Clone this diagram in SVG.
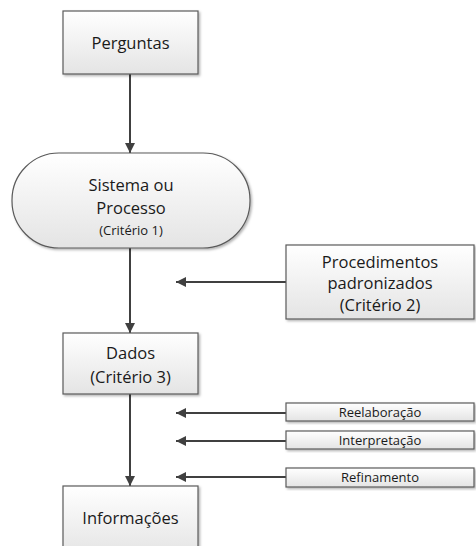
<svg xmlns="http://www.w3.org/2000/svg" width="476" height="546" viewBox="0 0 476 546">
<defs>
<linearGradient id="g" x1="0" y1="0" x2="0" y2="1">
<stop offset="0" stop-color="#ffffff"/>
<stop offset="1" stop-color="#e4e4e4"/>
</linearGradient>
<filter id="sh" x="-10%" y="-10%" width="130%" height="130%">
<feDropShadow dx="1.5" dy="1.5" stdDeviation="1.2" flood-color="#000" flood-opacity="0.3"/>
</filter>
<marker id="ah" viewBox="0 0 10 10" refX="10" refY="5" markerWidth="10" markerHeight="10" markerUnits="userSpaceOnUse" orient="auto">
<path d="M0,0 L10,5 L0,10 Z" fill="#404040"/>
</marker>
</defs>
<style>
.box{fill:url(#g);stroke:#5a5a5a;stroke-width:1.2;filter:url(#sh)}
.t{font-family:"Open Sans","Noto Sans",sans-serif;font-size:16.5px;fill:#1a1a1a;text-anchor:middle}
.s{font-family:"Open Sans","Noto Sans",sans-serif;font-size:13px;fill:#1a1a1a;text-anchor:middle}
.c{stroke:#404040;stroke-width:2;fill:none;marker-end:url(#ah)}
</style>
<rect width="476" height="546" fill="#fff"/>
<g id="connectors">
<line class="c" x1="130" y1="74" x2="130" y2="153"/>
<line class="c" x1="130" y1="248" x2="130" y2="333"/>
<line class="c" x1="130" y1="394" x2="130" y2="486"/>
<line class="c" x1="286" y1="282" x2="176" y2="282"/>
<line class="c" x1="286" y1="413" x2="176" y2="413"/>
<line class="c" x1="286" y1="441" x2="176" y2="441"/>
<line class="c" x1="286" y1="477" x2="176" y2="477"/>
</g>
<g id="perguntas">
<rect class="box" x="63" y="11" width="135" height="63"/>
<text class="t" x="130.5" y="49">Perguntas</text>
</g>
<g id="sistema">
<rect class="box" x="12" y="153" width="238" height="95" rx="47" ry="47"/>
<text class="t" x="131" y="191">Sistema ou</text>
<text class="t" x="131" y="214">Processo</text>
<text class="s" x="131" y="235">(Critério 1)</text>
</g>
<g id="procedimentos">
<rect class="box" x="286" y="245" width="188" height="74"/>
<text class="t" x="380" y="268">Procedimentos</text>
<text class="t" x="380" y="289">padronizados</text>
<text class="t" x="380" y="311">(Critério 2)</text>
</g>
<g id="dados">
<rect class="box" x="63" y="333" width="135" height="61"/>
<text class="t" x="130.5" y="359">Dados</text>
<text class="t" x="130.5" y="383">(Critério 3)</text>
</g>
<g id="reelaboracao">
<rect class="box" x="286" y="403" width="188" height="18"/>
<text class="s" x="380" y="417">Reelaboração</text>
</g>
<g id="interpretacao">
<rect class="box" x="286" y="431" width="188" height="18"/>
<text class="s" x="380" y="445">Interpretação</text>
</g>
<g id="refinamento">
<rect class="box" x="286" y="468" width="188" height="19"/>
<text class="s" x="380" y="482">Refinamento</text>
</g>
<g id="informacoes">
<rect class="box" x="63" y="486" width="135" height="70"/>
<text class="t" x="130.5" y="524">Informações</text>
</g>
</svg>
